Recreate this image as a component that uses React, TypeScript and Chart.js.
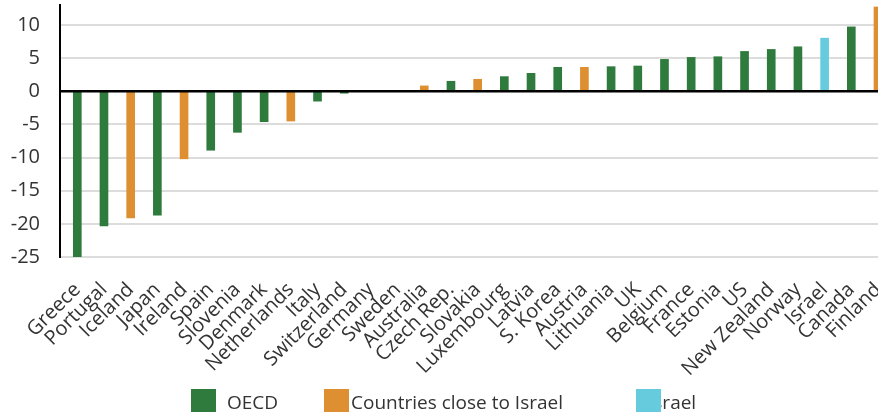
import React, { useEffect, useRef } from 'react';
import { Chart, registerables } from 'chart.js';

Chart.register(...registerables);

const countries = ['Greece', 'Portugal', 'Iceland', 'Japan', 'Ireland', 'Spain', 'Slovenia', 'Denmark', 'Netherlands', 'Italy', 'Switzerland', 'Germany', 'Sweden', 'Australia', 'Czech Rep.', 'Slovakia', 'Luxembourg', 'Latvia', 'S. Korea', 'Austria', 'Lithuania', 'UK', 'Belgium', 'France', 'Estonia', 'US', 'New Zealand', 'Norway', 'Israel', 'Canada', 'Finland'];
const values = [-25.3, -20.3, -19.1, -18.7, -10.2, -8.9, -6.2, -4.6, -4.5, -1.5, -0.3, 0, 0, 0.8, 1.5, 1.8, 2.2, 2.7, 3.6, 3.6, 3.7, 3.8, 4.8, 5.1, 5.2, 6.0, 6.3, 6.7, 8.0, 9.7, 12.7];
const groups = ['OECD', 'OECD', 'Close', 'OECD', 'Close', 'OECD', 'OECD', 'OECD', 'Close', 'OECD', 'OECD', 'OECD', 'OECD', 'Close', 'OECD', 'Close', 'OECD', 'OECD', 'OECD', 'Close', 'OECD', 'OECD', 'OECD', 'OECD', 'OECD', 'OECD', 'OECD', 'OECD', 'Israel', 'OECD', 'Close'];

const groupKeys = ['OECD', 'Close', 'Israel'];
const legendLabels = ['OECD', 'Countries close to Israel', 'Israel'];
const groupColors = ['#2E7B3D', '#DD8F31', '#66CCDD'];

const yTicksMin = -25;
const yTicksMax = 13;
const yStep = 5;

const FONT = '"Open Sans", "Noto Sans", sans-serif';

const legendPlugin = {
  id: 'customLegend',
  afterDraw(chart: any) {
    const ctx = chart.ctx;
    const boxX = [191, 324, 636];
    const textX = [227, 351, 648];
    ctx.save();
    ctx.font = `19px ${FONT}`;
    ctx.textBaseline = 'alphabetic';
    ctx.textAlign = 'left';
    legendLabels.forEach((lab, i) => {
      ctx.fillStyle = '#333333';
      ctx.fillText(lab, textX[i], 409);
    });
    legendLabels.forEach((_, i) => {
      ctx.fillStyle = groupColors[i];
      ctx.fillRect(boxX[i], 389, 25, 23);
    });
    ctx.restore();
  },
};

const zeroLinePlugin = {
  id: 'zeroLine',
  afterDatasetsDraw(chart: any) {
    const y = chart.scales.y.getPixelForValue(0);
    const { left, right } = chart.chartArea;
    const ctx = chart.ctx;
    ctx.save();
    ctx.strokeStyle = '#000';
    ctx.lineWidth = 2.5;
    ctx.beginPath();
    ctx.moveTo(left - 1, y);
    ctx.lineTo(right, y);
    ctx.stroke();
    ctx.restore();
  },
};

const zeroPad = (scale: any) => {
  scale.paddingLeft = 0;
  scale.paddingRight = 0;
  scale.paddingTop = 0;
  scale.paddingBottom = 0;
};

export default function App() {
  const ref = useRef<HTMLCanvasElement>(null);
  useEffect(() => {
    if (!ref.current) return;
    const colors = groups.map((g) => groupColors[groupKeys.indexOf(g)]);
    const chart = new Chart(ref.current, {
      type: 'bar',
      data: {
        datasets: [
          {
            data: values.map((v, i) => ({ x: i, y: v })),
            backgroundColor: colors,
            borderWidth: 0,
            barThickness: 8,
          } as any,
        ],
      },
      options: {
        animation: false,
        responsive: false,
        layout: { padding: { top: 5, left: 0, right: 0, bottom: 0 } },
        plugins: {
          legend: { display: false },
          tooltip: { enabled: false },
        },
        scales: {
          x: {
            type: 'linear',
            min: -0.648,
            max: 30,
            offset: false,
            grid: { display: false, drawTicks: false, offset: false },
            border: { display: false },
            afterBuildTicks: (scale: any) => {
              scale.ticks = countries.map((_, i) => ({ value: i }));
            },
            afterFit: (scale: any) => {
              scale.height = 159;
              zeroPad(scale);
            },
            ticks: {
              autoSkip: false,
              maxRotation: 45,
              minRotation: 45,
              padding: 21,
              color: '#333333',
              font: { family: FONT, size: 20 },
              callback: (v: any) => countries[Math.round(Number(v))] ?? '',
            },
          } as any,
          y: {
            min: yTicksMin,
            max: yTicksMax,
            afterFit: (scale: any) => {
              scale.width = 60;
              zeroPad(scale);
            },
            grid: {
              color: '#DCDCDC',
              lineWidth: 2,
              drawTicks: false,
            },
            border: { display: true, color: '#000', width: 2 },
            ticks: {
              stepSize: yStep,
              includeBounds: false,
              padding: 20,
              color: '#333333',
              font: { family: FONT, size: 20 },
            },
          } as any,
        },
      },
      plugins: [zeroLinePlugin, legendPlugin],
    });
    return () => chart.destroy();
  }, []);
  return (
    <div style={{ position: 'absolute', left: 0, top: 0, width: 878, height: 416, background: '#fff' }}>
      <canvas ref={ref} width={878} height={416} />
    </div>
  );
}
